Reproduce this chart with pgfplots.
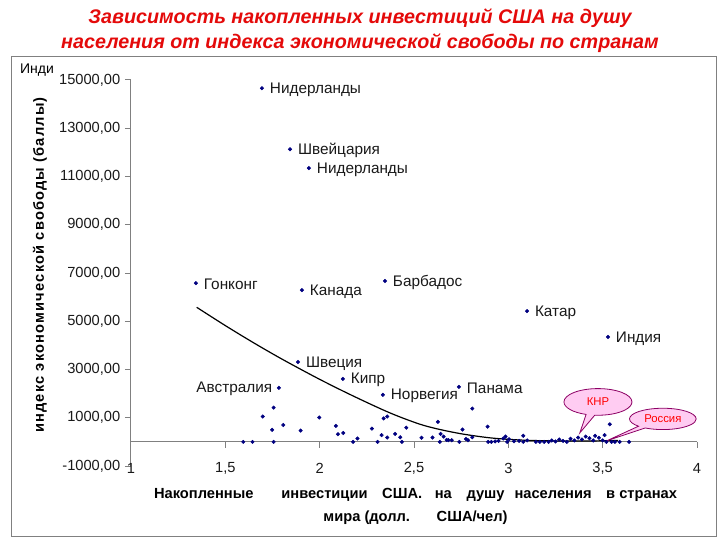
\documentclass[border=0pt]{standalone}
\usepackage{pgfplots}
\pgfplotsset{compat=1.18}
\usepackage{fontspec}
\setmainfont{Liberation Sans}
\usetikzlibrary{shapes.callouts}

\definecolor{navy}{RGB}{0,0,128}
\definecolor{titlered}{RGB}{228,10,10}
\definecolor{axgray}{RGB}{128,128,128}
\definecolor{calloutfill}{RGB}{255,204,242}
\definecolor{calloutdraw}{RGB}{140,0,100}

\begin{document}
\begin{tikzpicture}
% page = 720x540 px, 1px = 0.75pt, axis box origin at px (131,466)
\useasboundingbox (-98.25pt,-55.5pt) rectangle (441.75pt,349.5pt);
\draw[axgray, line width=0.75pt] (-89.25pt,-52.5pt) rectangle (438.75pt,306.75pt);
\node[titlered, align=center, font=\fontsize{14.8}{18.75}\selectfont\bfseries\itshape]
  at (171.75pt,326.6pt) {Зависимость накопленных инвестиций США на душу\\населения от индекса экономической свободы по странам};

\begin{axis}[
    at={(0,0)}, anchor=south west,
    scale only axis,
    width=424.5pt, height=289.5pt,
    xmin=1, xmax=4, ymin=-1000, ymax=15000,
    clip=false,
    axis y line*=left, axis x line*=bottom,
    x axis line style={draw=none},
    y axis line style={axgray, line width=0.75pt},
    xtick={1,1.5,2,2.5,3,3.5,4},
    ytick={-1000,1000,3000,5000,7000,9000,11000,13000,15000},
    xtick style={draw=none},
    ytick style={axgray, line width=0.75pt},
    tick align=outside, major tick length=4.5pt,
    tick label style={font=\fontsize{11}{12}\selectfont, text=black!90},
    /pgf/number format/assume math mode=true,
    xticklabel style={anchor=center, yshift=3pt, /pgf/number format/.cd, fixed, precision=1, use comma},
    yticklabel style={/pgf/number format/.cd, fixed, fixed zerofill, precision=2, use comma, 1000 sep={}},
    scaled y ticks=false,
]

% x axis line drawn at y = 0, as in the reference
\draw[axgray, line width=0.75pt] (axis cs:1,0) -- (axis cs:4,0);
\pgfplotsinvokeforeach{1.5,2,2.5,3,3.5,4}{
  \draw[axgray, line width=0.75pt] (axis cs:#1,0) -- ([yshift=-4.5pt]axis cs:#1,0);
}

% trend line
\addplot[black, line width=0.9pt, smooth, no marks] coordinates {
  (1.348,5580) (1.5,4820) (1.65,4107) (1.8,3432) (1.993,2621)
  (2.17,1931) (2.373,1200) (2.55,687) (2.726,370) (2.902,168)
  (3.079,71) (3.25,40) (3.42,35) (3.58,60)
};

% unlabelled countries
\addplot[only marks, mark=*, mark size=1.3pt, navy] coordinates {
  (1.595,0) (1.644,0) (1.698,1050) (1.756,1420) (1.748,500) (1.756,0)
  (1.807,700) (1.899,470) (1.998,1010) (2.086,660) (2.097,320) (2.125,370)
  (2.177,0) (2.2,140) (2.277,550) (2.307,0) (2.328,280) (2.339,970)
  (2.358,1050) (2.358,180) (2.4,330) (2.427,190) (2.436,0) (2.459,590)
  (2.54,170) (2.598,180) (2.627,830) (2.641,330) (2.657,220) (2.637,0)
  (2.673,80) (2.682,70) (2.70,70) (2.74,0) (2.757,510) (2.775,120)
  (2.786,70) (2.809,1380) (2.809,190) (2.89,630) (2.893,0) (2.91,0)
  (2.93,20) (2.948,40) (2.973,140) (2.985,220) (2.994,0) (3.004,110)
  (3.03,30) (3.057,40) (3.079,250) (3.079,0) (3.10,60) (3.146,0)
  (3.167,0) (3.19,0) (3.213,0) (3.23,60) (3.25,20) (3.27,100)
  (3.29,40) (3.31,0) (3.33,130) (3.35,60) (3.37,180) (3.39,100)
  (3.41,220) (3.43,150) (3.45,60) (3.46,250) (3.48,170) (3.50,60)
  (3.51,280) (3.52,0) (3.538,730) (3.547,0) (3.565,0) (3.59,0) (3.64,0)
};

% labelled countries
\addplot[only marks, mark=*, mark size=1.3pt, navy,
  nodes near coords, point meta=explicit symbolic,
  nodes near coords style={anchor=west, xshift=2.5pt, yshift=-1pt, text=black!90,
    font=\fontsize{11.5}{13}\selectfont}] coordinates {
  (1.694,14660) [Нидерланды]
  (1.843,12130) [Швейцария]
  (1.943,11350) [Нидерланды]
  (1.344,6580) [Гонконг]
  (1.906,6290) [Канада]
  (2.346,6670) [Барбадос]
  (3.099,5420) [Катар]
  (3.528,4350) [Индия]
  (1.885,3310) [Швеция]
  (2.123,2610) [Кипр]
  (2.335,1950) [Норвегия]
  (2.738,2280) [Панама]
};
\addplot[only marks, mark=*, mark size=1.3pt, navy,
  nodes near coords, point meta=explicit symbolic,
  nodes near coords style={anchor=east, xshift=-1.5pt, yshift=-1pt, text=black!90,
    font=\fontsize{11.5}{13}\selectfont}] coordinates {
  (1.784,2240) [Австралия]
};

% callouts
\node[ellipse callout, fill=calloutfill, draw=calloutdraw, line width=0.6pt,
  minimum width=51pt, minimum height=20pt, inner sep=0pt, text=red,
  font=\fontsize{8.5}{10}\selectfont,
  callout absolute pointer={(axis cs:3.379,373)}] at (axis cs:3.475,1656) {КНР};
\node[ellipse callout, fill=calloutfill, draw=calloutdraw, line width=0.6pt,
  minimum width=50pt, minimum height=16pt, inner sep=0pt, text=red,
  font=\fontsize{8.5}{10}\selectfont,
  callout absolute pointer={(axis cs:3.52,40)}] at (axis cs:3.819,952) {Россия};
\end{axis}

% axis titles
\node[rotate=90, font=\fontsize{11}{12}\selectfont\bfseries\addfontfeature{LetterSpace=8}] at (-68.25pt,150.75pt)
  {индекс экономической свободы (баллы)};
\node[font=\fontsize{11}{12}\selectfont\bfseries] at (213.4pt,-21.75pt)
  {Накопленные\hspace{21pt}инвестиции\hspace{11pt}США.\hspace{9.5pt}на\hspace{11pt}душу\hspace{7.5pt}населения\hspace{11pt}в странах};
\node[font=\fontsize{11}{12}\selectfont\bfseries] at (213.4pt,-39pt)
  {мира (долл.\hspace{20pt}США/чел)};
\node[font=\fontsize{10.5}{12}\selectfont] at (-70.5pt,297pt) {Инди};
\end{tikzpicture}
\end{document}
